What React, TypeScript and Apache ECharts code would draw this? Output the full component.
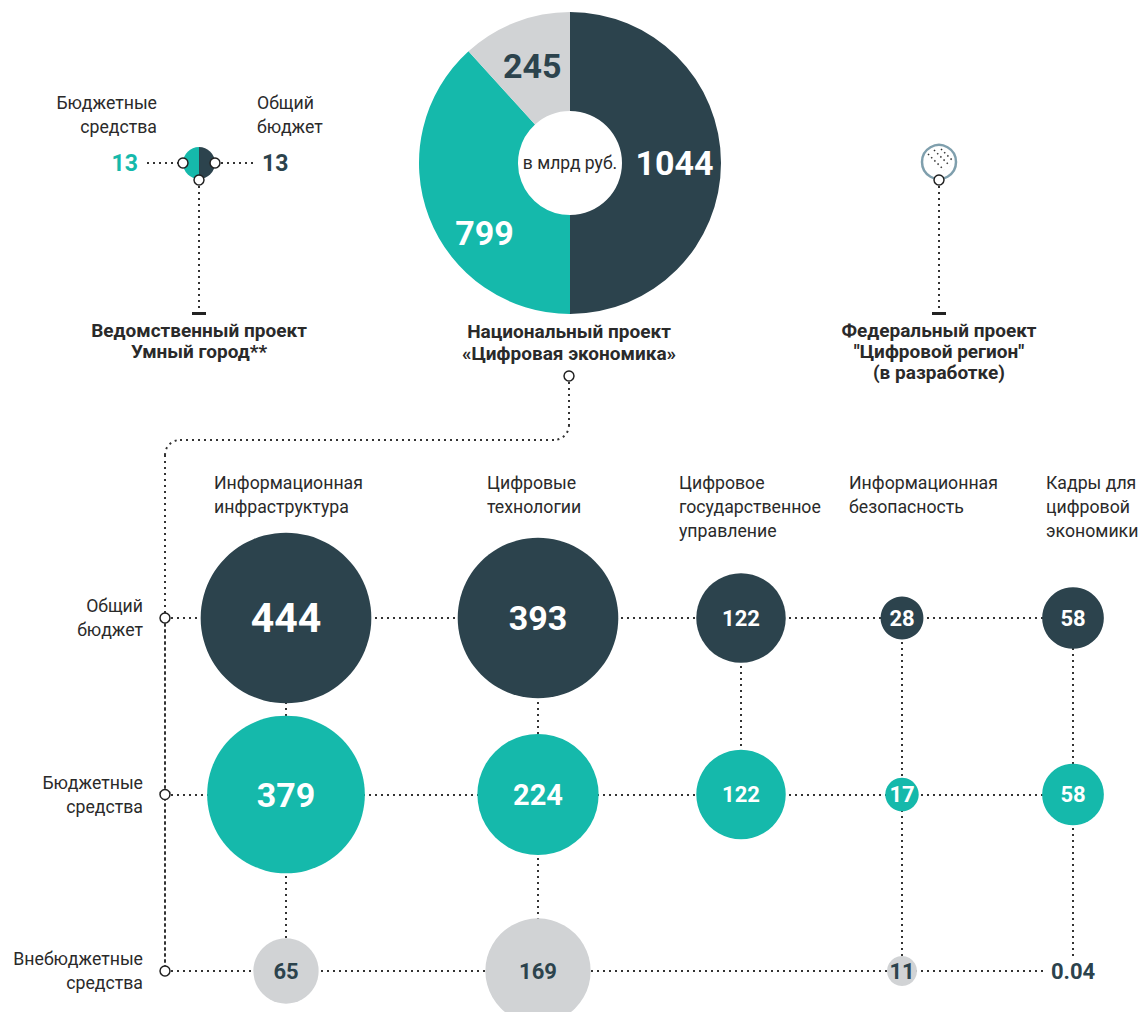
import React, { useEffect, useRef } from "react";
import * as echarts from "echarts";

// ---------- data ----------
const nationalCategories = ["Общий бюджет", "Бюджетные средства", "Внебюджетные средства"];
const nationalValues = [1044, 799, 245];
const nationalTitle = "Национальный проект\n«Цифровая экономика»";
const unitLabel = "в млрд руб.";

const smartCityCategories = ["Бюджетные\nсредства", "Общий\nбюджет"];
const smartCityValues = [13, 13];
const smartCityTitle = "Ведомственный проект\nУмный город**";

const federalTitle = "Федеральный проект\n\"Цифровой регион\"\n(в разработке)";

const directions = [
  "Информационная\nинфраструктура",
  "Цифровые\nтехнологии",
  "Цифровое\nгосударственное\nуправление",
  "Информационная\nбезопасность",
  "Кадры для\nцифровой\nэкономики",
];
const fundingRows = ["Общий\nбюджет", "Бюджетные\nсредства", "Внебюджетные\nсредства"];
const totalBudget = [444, 393, 122, 28, 58];
const budgetFunds = [379, 224, 122, 17, 58];
const extraBudgetFunds: (number | null)[] = [65, 169, null, 11, 0.04];

// ---------- styles / layout ----------
const FONT = "Roboto, 'Noto Sans', sans-serif";
const COLOR_DARK = "#2c434d";
const COLOR_TEAL = "#15b9ab";
const COLOR_GRAY = "#d1d3d5";
const COLOR_TEXT = "#2a2a2a";
const COLOR_DOT = "#333333";
const COLOR_FED = "#7f9fad";
const REG = 17.7;
const BOLD = 19;

const GRID_TOP = 618;
const GRID_HEIGHT = 353;
const AXIS_X = 165;
const COL_X = [286, 538, 741, 902, 1073];
const HEADER_X = [214, 487, 679, 849, 1046];
const HEADER_Y = 471;

const rowColors = [COLOR_DARK, COLOR_TEAL, COLOR_GRAY];
const rowLabelColors = ["#ffffff", "#ffffff", COLOR_DARK];
const rowValues = [totalBudget, budgetFunds, extraBudgetFunds];

const dotStyle = { stroke: COLOR_DOT, lineWidth: 2, lineDash: [2, 4], fill: null };

function bubbleSize(v: number) {
  const s = 8.1 * Math.sqrt(v);
  return v >= 1 ? Math.max(30, s) : s;
}
function labelSize(v: number) {
  return v >= 400 ? 41 : v >= 300 ? 34 : v >= 200 ? 29 : 22;
}

function dline(x1: number, y1: number, x2: number, y2: number) {
  return { type: "line", z: 1, silent: true, shape: { x1, y1, x2, y2 }, style: { ...dotStyle } };
}
function knob(cx: number, cy: number) {
  return {
    type: "circle",
    z: 100,
    silent: true,
    shape: { cx, cy, r: 5 },
    style: { fill: "#ffffff", stroke: "#222222", lineWidth: 1.5 },
  };
}
function text(t: string, x: number, y: number, opts: any) {
  return {
    type: "text",
    z: 100,
    silent: true,
    x,
    y,
    style: {
      text: t,
      fontFamily: FONT,
      fontSize: REG,
      fill: COLOR_TEXT,
      lineHeight: 24,
      ...opts,
    },
  };
}

function buildOption() {
  const grids: any[] = [
    { left: AXIS_X, top: GRID_TOP, width: COL_X[COL_X.length - 1] - AXIS_X, height: GRID_HEIGHT },
  ];
  const xAxes: any[] = [{ gridIndex: 0, type: "value", min: 0, max: 1, show: false }];
  const yAxes: any[] = [
    {
      gridIndex: 0,
      type: "category",
      data: fundingRows,
      inverse: true,
      boundaryGap: false,
      axisLine: { show: true, lineStyle: { color: COLOR_DOT, width: 2, type: [2, 4] } },
      axisTick: { show: false },
      splitLine: { show: true, lineStyle: { color: COLOR_DOT, width: 2, type: [2, 4] } },
      axisLabel: {
        margin: 22,
        fontSize: REG,
        lineHeight: 24,
        color: COLOR_TEXT,
        fontFamily: FONT,
        align: "right",
      },
    },
  ];
  const series: any[] = [
    {
      type: "scatter",
      xAxisIndex: 0,
      yAxisIndex: 0,
      silent: true,
      z: 5,
      symbolSize: 10,
      itemStyle: { color: "#ffffff", borderColor: "#222222", borderWidth: 1.5, opacity: 1 },
      data: fundingRows.map((_, r) => [0, r]),
    },
  ];

  directions.forEach((d, i) => {
    grids.push({ left: COL_X[i] - 40, top: GRID_TOP, width: 80, height: GRID_HEIGHT });
    xAxes.push({ gridIndex: i + 1, type: "category", data: [d], show: false });
    yAxes.push({
      gridIndex: i + 1,
      type: "category",
      data: fundingRows,
      inverse: true,
      boundaryGap: false,
      show: false,
    });
    const pts = rowValues
      .map((arr, r) => ({ r, v: arr[i] }))
      .filter((p) => p.v !== null && p.v !== undefined) as { r: number; v: number }[];
    series.push({
      type: "line",
      xAxisIndex: i + 1,
      yAxisIndex: i + 1,
      silent: true,
      z: 1,
      symbol: "none",
      lineStyle: { color: COLOR_DOT, width: 2, type: [2, 4] },
      data: pts.map((p) => [0, p.r]),
    });
    series.push({
      type: "scatter",
      xAxisIndex: i + 1,
      yAxisIndex: i + 1,
      silent: true,
      z: 3,
      data: pts.map((p) => ({
        value: [0, p.r, p.v],
        symbolSize: bubbleSize(p.v),
        itemStyle: { color: rowColors[p.r], opacity: 1 },
        label: {
          show: true,
          position: "inside",
          formatter: String(p.v),
          color: rowLabelColors[p.r],
          fontSize: labelSize(p.v),
          fontWeight: "bold",
          fontFamily: FONT,
          ...(p.v < 1 ? { backgroundColor: "#ffffff", padding: [4, 4] } : {}),
        },
      })),
    });
  });

  // national project donut
  const nationalColors = [COLOR_DARK, COLOR_TEAL, COLOR_GRAY];
  const nationalLabelColors = ["#ffffff", "#ffffff", COLOR_DARK];
  series.push({
    type: "pie",
    center: [570, 163],
    radius: [52, 151],
    startAngle: 90,
    clockwise: true,
    silent: true,
    z: 2,
    labelLine: { show: false },
    data: nationalValues.map((v, i) => ({
      name: nationalCategories[i],
      value: v,
      itemStyle: { color: nationalColors[i] },
      label: {
        show: true,
        position: "inside",
        formatter: i === 1 ? "{s| }\n{v|{c}}" : "{c}",
        color: nationalLabelColors[i],
        fontSize: 34,
        fontWeight: "bold",
        fontFamily: FONT,
        rich:
          i === 1
            ? {
                s: { fontSize: 10, lineHeight: 64 },
                v: {
                  fontSize: 34,
                  fontWeight: "bold",
                  fontFamily: FONT,
                  color: nationalLabelColors[i],
                  padding: [0, 0, 0, 24],
                },
              }
            : undefined,
      },
    })),
  });

  // smart city small pie (right half: total, left half: budget funds)
  series.push({
    type: "pie",
    center: [199, 163],
    radius: [0, 16],
    startAngle: 90,
    clockwise: true,
    silent: true,
    z: 2,
    label: { show: false },
    labelLine: { show: false },
    data: [
      { name: smartCityCategories[1], value: smartCityValues[1], itemStyle: { color: COLOR_DARK } },
      { name: smartCityCategories[0], value: smartCityValues[0], itemStyle: { color: COLOR_TEAL } },
    ],
  });

  const graphic: any[] = [
    // smart city block
    text(smartCityCategories[0], 157, 91, { align: "right", verticalAlign: "top" }),
    text(smartCityCategories[1], 257, 91, { align: "left", verticalAlign: "top" }),
    text(String(smartCityValues[0]), 138, 163, {
      align: "right",
      verticalAlign: "middle",
      fontSize: 23,
      fontWeight: "bold",
      fill: COLOR_TEAL,
    }),
    text(String(smartCityValues[1]), 262, 163, {
      align: "left",
      verticalAlign: "middle",
      fontSize: 23,
      fontWeight: "bold",
      fill: COLOR_DARK,
    }),
    dline(147, 163, 178, 163),
    dline(221, 163, 257, 163),
    dline(199, 186, 199, 308),
    knob(183, 163),
    knob(215, 163),
    knob(199, 180),
    { type: "rect", z: 100, silent: true, shape: { x: 192, y: 312, width: 14, height: 3 }, style: { fill: "#222222" } },
    text(smartCityTitle, 199, 320, { align: "center", verticalAlign: "top", fontWeight: "bold", fontSize: BOLD, lineHeight: 21 }),

    // national project
    text(unitLabel, 570, 163, { align: "center", verticalAlign: "middle", fontSize: 17.5 }),
    text(nationalTitle, 569, 320, { align: "center", verticalAlign: "top", fontWeight: "bold", fontSize: BOLD, lineHeight: 22 }),
    knob(569, 376),
    dline(569, 382, 569, 425),
    {
      type: "arc",
      z: 1,
      silent: true,
      shape: { cx: 554, cy: 425, r: 15, startAngle: 0, endAngle: Math.PI / 2, clockwise: true },
      style: { ...dotStyle },
    },
    dline(554, 440, 180, 440),
    {
      type: "arc",
      z: 1,
      silent: true,
      shape: { cx: 180, cy: 455, r: 15, startAngle: Math.PI, endAngle: Math.PI * 1.5, clockwise: true },
      style: { ...dotStyle },
    },
    dline(AXIS_X, 455, AXIS_X, GRID_TOP),

    // federal project
    {
      type: "circle",
      z: 100,
      silent: true,
      shape: { cx: 939, cy: 162, r: 17 },
      style: { fill: "#ffffff", stroke: COLOR_FED, lineWidth: 2.5 },
    },
    { type: "line", z: 101, silent: true, shape: { x1: 934, y1: 150, x2: 950, y2: 166 }, style: { stroke: COLOR_DOT, lineWidth: 1.5, lineDash: [1.5, 3] } },
    { type: "line", z: 101, silent: true, shape: { x1: 928, y1: 154, x2: 944, y2: 170 }, style: { stroke: COLOR_DOT, lineWidth: 1.5, lineDash: [1.5, 3] } },
    { type: "line", z: 101, silent: true, shape: { x1: 941, y1: 149, x2: 952, y2: 160 }, style: { stroke: COLOR_DOT, lineWidth: 1.5, lineDash: [1.5, 3] } },
    knob(939, 180),
    dline(939, 186, 939, 308),
    { type: "rect", z: 100, silent: true, shape: { x: 932, y: 312, width: 14, height: 3 }, style: { fill: "#222222" } },
    text(federalTitle, 939, 320, { align: "center", verticalAlign: "top", fontWeight: "bold", fontSize: BOLD, lineHeight: 21 }),
  ];

  directions.forEach((d, i) => {
    graphic.push(text(d, HEADER_X[i], HEADER_Y, { align: "left", verticalAlign: "top" }));
  });

  return {
    animation: false,
    backgroundColor: "#ffffff",
    textStyle: { fontFamily: FONT },
    grid: grids,
    xAxis: xAxes,
    yAxis: yAxes,
    series,
    graphic,
  };
}

export default function App() {
  const ref = useRef<HTMLDivElement>(null);
  useEffect(() => {
    if (!ref.current) return;
    const chart = echarts.init(ref.current, null, { renderer: "svg" });
    chart.setOption(buildOption() as any);
    return () => chart.dispose();
  }, []);
  return (
    <div
      ref={ref}
      style={{ position: "absolute", left: 0, top: 0, width: 1140, height: 1012, background: "#fff" }}
    />
  );
}
